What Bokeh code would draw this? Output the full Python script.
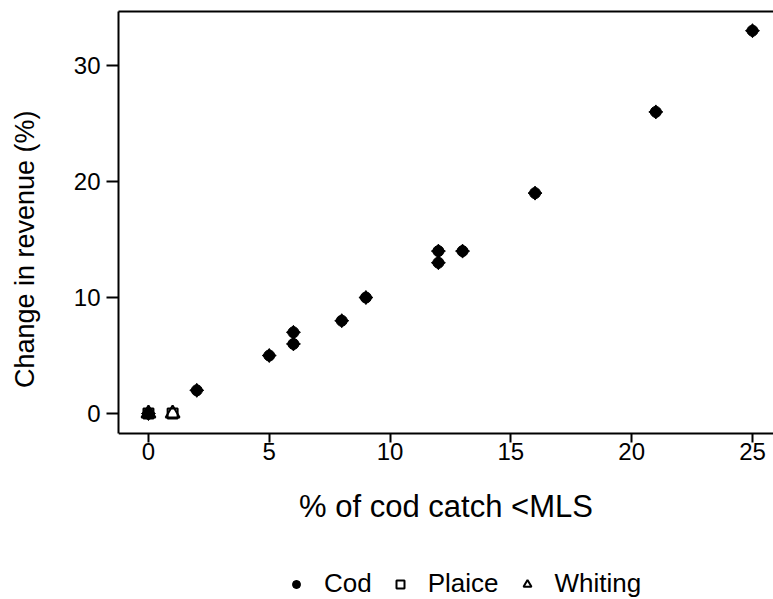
import math

from bokeh.plotting import figure
from bokeh.models import (ColumnDataSource, FixedTicker, Legend, LegendItem,
                          LinearAxis)
from bokeh.embed import file_html
from bokeh.resources import INLINE

# Share of cod catch below minimum landing size vs. revenue change, by species
cod_x = [0, 2, 5, 6, 6, 8, 9, 12, 12, 13, 16, 21, 25]
cod_y = [0, 2, 5, 6, 7, 8, 10, 13, 14, 14, 19, 26, 33]
plaice_x = [0, 1]
plaice_y = [0, 0]
whiting_x = [0, 1]
whiting_y = [0, 0]

x_ticks = [0, 5, 10, 15, 20, 25]
y_ticks = [0, 10, 20, 30]

FONT = "Liberation Sans"
NBSP = "\u00a0"

# The frame runs down to the bottom edge so the legend row can sit inside it;
# the x axis is pinned just below zero and the y axis is bounded to match.
Y_LOW, Y_HIGH = -16.03, 34.655
X_AXIS_AT = -1.724

p = figure(width=773, height=599, output_backend="svg", toolbar_location=None,
           x_range=(-1.24, 25.87), y_range=(Y_LOW, Y_HIGH),
           min_border_left=118, min_border_top=11, min_border_right=0,
           min_border_bottom=0, background_fill_color="white",
           border_fill_color="white")
p.outline_line_color = None
p.grid.visible = False
p.xaxis.visible = False
p.yaxis.visible = False


def style_axis(ax, ticks, tick_out, standoff):
    ax.ticker = FixedTicker(ticks=ticks)
    ax.axis_line_width = 2
    ax.axis_line_color = "black"
    ax.major_tick_line_width = 2
    ax.major_tick_line_color = "black"
    ax.major_tick_out = tick_out
    ax.major_tick_in = 0
    ax.minor_tick_line_color = None
    ax.major_label_text_font = FONT
    ax.major_label_text_font_size = "24px"
    ax.major_label_text_color = "black"
    ax.major_label_standoff = standoff
    ax.axis_label_text_font = FONT
    ax.axis_label_text_font_style = "normal"
    ax.axis_label_text_color = "black"


xax = LinearAxis(fixed_location=X_AXIS_AT)
style_axis(xax, x_ticks, 9, 0)
xax.axis_label = "% of cod catch <MLS"
xax.axis_label_text_font_size = "31px"
xax.axis_label_standoff = 26
p.add_layout(xax, "below")

yax = LinearAxis(bounds=(X_AXIS_AT, Y_HIGH))
style_axis(yax, y_ticks, 12, 6)
# leading no-break spaces lift the centred title up beside the axis line
yax.axis_label = NBSP * 15 + "Change in revenue (%)"
yax.axis_label_text_font_size = "27px"
yax.axis_label_standoff = 31
p.add_layout(yax, "left")

# top border line of the plot region
top = LinearAxis(ticker=FixedTicker(ticks=[]), axis_line_width=2,
                 axis_line_color="black", major_tick_line_color=None,
                 minor_tick_line_color=None, major_label_text_font_size="0px",
                 major_tick_out=0, major_tick_in=0)
p.add_layout(top, "above")

cod_src = ColumnDataSource(dict(x=cod_x, y=cod_y))
cod_c = p.scatter("x", "y", source=cod_src, marker="circle", size=11,
                  fill_color="black", line_color="black")
cod_v = p.scatter("x", "y", source=cod_src, marker="diamond", size=14,
                  fill_color="black", line_color="black")
cod_h = p.scatter("x", "y", source=cod_src, marker="diamond", size=14,
                  angle=math.pi / 2, fill_color="black", line_color="black")
pla = p.scatter(plaice_x, plaice_y, marker="square", size=10,
                fill_color=None, line_color="black", line_width=2)
whi = p.scatter(whiting_x, whiting_y, marker="triangle", size=14,
                fill_color=None, line_color="black", line_width=2)

legend = Legend(items=[LegendItem(label="Cod", renderers=[cod_c, cod_v]),
                       LegendItem(label="Plaice", renderers=[pla]),
                       LegendItem(label="Whiting", renderers=[whi])],
                orientation="horizontal", location=(168, 0),
                label_text_font=FONT, label_text_font_size="26px",
                label_text_color="black",
                glyph_width=20, glyph_height=20, label_standoff=18,
                spacing=18, padding=0, margin=0, border_line_color=None,
                background_fill_alpha=0)
p.add_layout(legend, "center")

open("out.html", "w").write(file_html(p, INLINE))
